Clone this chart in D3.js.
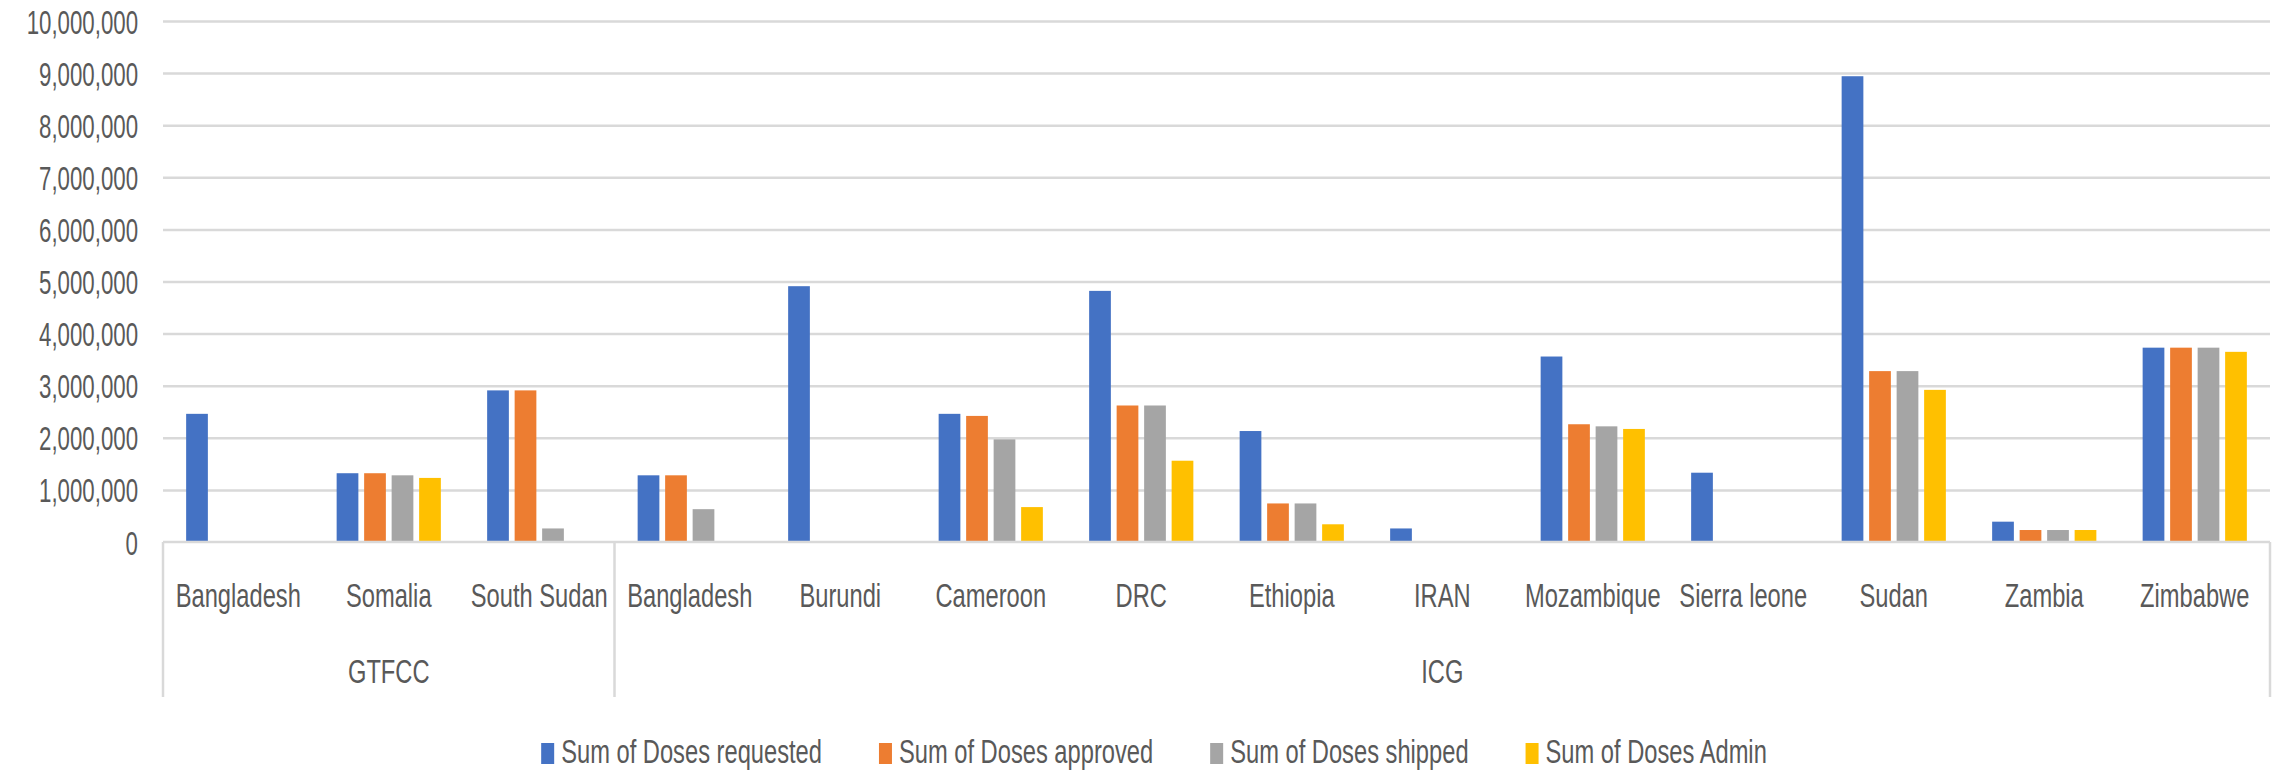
<!DOCTYPE html>
<html>
<head>
<meta charset="utf-8">
<script src="https://cdn.jsdelivr.net/npm/d3@7"></script>
<style>
  html, body { margin: 0; padding: 0; background: #ffffff; }
  svg { display: block; }
  text { font-family: "Liberation Sans", Arial, sans-serif; fill: #595959; }
</style>
</head>
<body>
<svg id="chart" width="2282" height="773"></svg>
<script>
// Vaccine dose requests per country, grouped by mechanism
const categories = ["Bangladesh", "Somalia", "South Sudan", "Bangladesh", "Burundi", "Cameroon", "DRC",
                    "Ethiopia", "IRAN", "Mozambique", "Sierra leone", "Sudan", "Zambia", "Zimbabwe"];
const mechanism = ["GTFCC", "GTFCC", "GTFCC", "ICG", "ICG", "ICG", "ICG",
                   "ICG", "ICG", "ICG", "ICG", "ICG", "ICG", "ICG"];

const dosesRequested = [2460000, 1320000, 2910000, 1280000, 4910000, 2460000, 4820000,
                        2130000, 260000, 3560000, 1330000, 8940000, 390000, 3730000];
const dosesApproved  = [null, 1320000, 2910000, 1280000, null, 2420000, 2620000,
                        740000, null, 2260000, null, 3280000, 230000, 3730000];
const dosesShipped   = [null, 1280000, 260000, 630000, null, 1970000, 2620000,
                        740000, null, 2220000, null, 3280000, 230000, 3730000];
const dosesAdmin     = [null, 1230000, null, null, null, 670000, 1560000,
                        340000, null, 2170000, null, 2920000, 230000, 3650000];

const seriesNames = ["Sum of Doses requested", "Sum of Doses approved", "Sum of Doses shipped", "Sum of Doses Admin"];
const seriesColors = ["#4472C4", "#ED7D31", "#A5A5A5", "#FFC000"];
const yTicks = [0, 1000000, 2000000, 3000000, 4000000, 5000000, 6000000, 7000000, 8000000, 9000000, 10000000];

const series = [dosesRequested, dosesApproved, dosesShipped, dosesAdmin];

// ---- layout ----
const W = 2282, H = 773;
const plot = { left: 163, right: 2270, top: 21, bottom: 542 };
const SX = 0.82, SY = 1.15;   // tall, narrow lettering
const FONT = 28.9;
const gridColor = "#d9d9d9";

const svg = d3.select("#chart");
svg.append("rect").attr("width", W).attr("height", H).attr("fill", "#ffffff");

const idx = categories.map((_, i) => i);
const x0 = d3.scaleBand().domain(idx).range([plot.left, plot.right]).paddingInner(0).paddingOuter(0);
const bw = x0.bandwidth();
const x1 = d3.scaleBand().domain(d3.range(series.length))
  .range([bw * 0.1346, bw * 0.8654]).paddingInner(0.21).paddingOuter(0.105);
const y = d3.scaleLinear().domain([0, 10000000]).range([plot.bottom, plot.top]);

// condensed, stretched text helper
function shapeText(sel, tx, ty, sx = SX) {
  sel.attr("x", 0).attr("y", 0).attr("dy", null)
     .attr("transform", `translate(${tx},${ty}) scale(${sx},${SY})`)
     .style("font-size", FONT + "px");
}

// gridlines
const grid = svg.append("g").attr("transform", `translate(${plot.left},0)`)
  .call(d3.axisLeft(y).tickValues(yTicks.slice(1)).tickSize(-(plot.right - plot.left)).tickFormat(""));
grid.select(".domain").remove();
grid.selectAll(".tick line").attr("stroke", gridColor).attr("stroke-width", 2.5);

// y-axis labels
const yAxis = svg.append("g").attr("transform", `translate(${plot.left},0)`)
  .call(d3.axisLeft(y).tickValues(yTicks).tickSize(0).tickFormat(d3.format(",")));
yAxis.select(".domain").remove();
yAxis.selectAll(".tick text").attr("text-anchor", "end").each(function () {
  shapeText(d3.select(this), -25, 12, 0.77);
});

// bars
const barData = [];
series.forEach((vals, s) => vals.forEach((v, i) => { if (v != null && v > 0) barData.push({ i, s, v }); }));
svg.append("g").selectAll("rect").data(barData).join("rect")
  .attr("x", d => x0(d.i) + x1(d.s))
  .attr("width", x1.bandwidth())
  .attr("y", d => y(d.v))
  .attr("height", d => y(0) - y(d.v))
  .attr("fill", d => seriesColors[d.s]);

// category axis
const xAxis = svg.append("g").attr("transform", `translate(0,${plot.bottom})`)
  .call(d3.axisBottom(x0).tickSize(0).tickFormat(i => categories[i]));
xAxis.select(".domain").attr("stroke", gridColor).attr("stroke-width", 2.5)
  .attr("d", `M${plot.left},0H${plot.right}`);
xAxis.selectAll(".tick text").attr("text-anchor", "middle").each(function () {
  shapeText(d3.select(this), 0, 65);
});

// mechanism groups: boundary lines and labels
const groups = [];
mechanism.forEach((m, i) => {
  const last = groups[groups.length - 1];
  if (last && last.name === m) last.end = i; else groups.push({ name: m, start: i, end: i });
});
const bounds = [plot.left].concat(groups.map(g => x0(g.end) + bw));
svg.append("g").selectAll("line").data(bounds).join("line")
  .attr("x1", d => d).attr("x2", d => d)
  .attr("y1", plot.bottom).attr("y2", 697)
  .attr("stroke", gridColor).attr("stroke-width", 2.5);
svg.append("g").selectAll("text").data(groups).join("text")
  .attr("text-anchor", "middle")
  .text(d => d.name)
  .each(function (d) {
    const cx = (x0(d.start) + x0(d.end) + bw) / 2;
    shapeText(d3.select(this), cx, 683);
  });

// legend
const legend = svg.append("g");
const items = legend.selectAll("g").data(seriesNames).join("g");
items.append("rect").attr("width", 13).attr("height", 21).attr("y", 743)
  .attr("fill", (d, i) => seriesColors[i]);
items.append("text").text(d => d).attr("text-anchor", "start").each(function () {
  shapeText(d3.select(this), 20, 763);
});
const widths = [];
items.selectAll("text").each(function () { widths.push(this.getComputedTextLength() * SX); });
const itemW = widths.map(w => 20 + w);
const gap = 57;
const total = d3.sum(itemW) + gap * (itemW.length - 1);
let cursor = 1154 - total / 2;
items.each(function (d, i) {
  d3.select(this).attr("transform", `translate(${cursor},0)`);
  cursor += itemW[i] + gap;
});
</script>
</body>
</html>
